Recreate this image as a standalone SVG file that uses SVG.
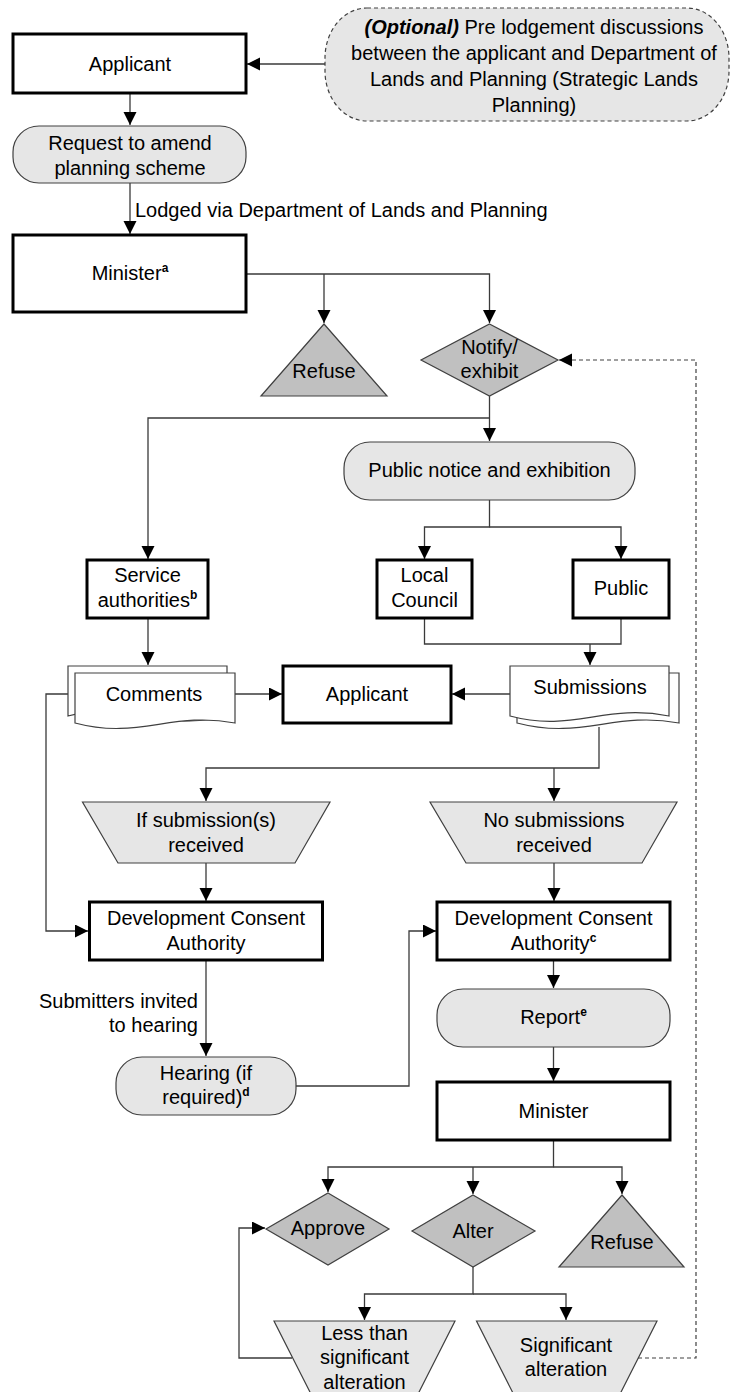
<svg xmlns="http://www.w3.org/2000/svg" width="731" height="1392" viewBox="0 0 731 1392">
<style>
text{font-family:"Liberation Sans",Arial,sans-serif;font-size:20px;fill:#000;text-anchor:middle}
.box{fill:#fff;stroke:#000;stroke-width:3}
.rnd{fill:#e6e6e6;stroke:#404040;stroke-width:1.2}
.trap{fill:#e6e6e6;stroke:#404040;stroke-width:1.2}
.dk{fill:#c0c0c0;stroke:#404040;stroke-width:1.2}
.doc{fill:#fff;stroke:#404040;stroke-width:1.2}
.c{fill:none;stroke:#3a3a3a;stroke-width:1.3}
.d{fill:none;stroke:#404040;stroke-width:1.2;stroke-dasharray:4 3}
.sup{font-size:12px;font-weight:bold}
</style>
<defs>
<marker id="ah" markerUnits="userSpaceOnUse" markerWidth="14" markerHeight="14" refX="13" refY="6.5" orient="auto">
<path d="M0,0 L13,6.5 L0,13 z" fill="#000"/>
</marker>
</defs>
<rect width="731" height="1392" fill="#fff"/>
<g id="connectors">
<path class="c" d="M325,64 H247" marker-end="url(#ah)"/>
<path class="c" d="M130,93 V125" marker-end="url(#ah)"/>
<path class="c" d="M130,183 V234" marker-end="url(#ah)"/>
<path class="c" d="M247,274 H489.5 V323" marker-end="url(#ah)"/>
<path class="c" d="M324,274 V323" marker-end="url(#ah)"/>
<path class="c" d="M489.5,396 V441" marker-end="url(#ah)"/>
<path class="c" d="M489.5,418 H148 V559" marker-end="url(#ah)"/>
<path class="c" d="M489.5,500 V527 H424.5 V559" marker-end="url(#ah)"/>
<path class="c" d="M489.5,527 H621 V559" marker-end="url(#ah)"/>
<path class="c" d="M148,618 V665" marker-end="url(#ah)"/>
<path class="c" d="M424.5,618 V644 H621 V618"/>
<path class="c" d="M590,644 V665" marker-end="url(#ah)"/>
<path class="c" d="M235,694 H282" marker-end="url(#ah)"/>
<path class="c" d="M510,694 H452" marker-end="url(#ah)"/>
<path class="c" d="M599,727 V768 H206 V801" marker-end="url(#ah)"/>
<path class="c" d="M554,768 V801" marker-end="url(#ah)"/>
<path class="c" d="M68,694 H46 V931 H88" marker-end="url(#ah)"/>
<path class="c" d="M206,863 V901" marker-end="url(#ah)"/>
<path class="c" d="M554,863 V901" marker-end="url(#ah)"/>
<path class="c" d="M206,960 V1056" marker-end="url(#ah)"/>
<path class="c" d="M296,1086 H409 V931 H436" marker-end="url(#ah)"/>
<path class="c" d="M553.5,960 V988" marker-end="url(#ah)"/>
<path class="c" d="M553.5,1047 V1081" marker-end="url(#ah)"/>
<path class="c" d="M553.5,1140 V1167 H328 V1192" marker-end="url(#ah)"/>
<path class="c" d="M473,1167 V1194" marker-end="url(#ah)"/>
<path class="c" d="M553.5,1167 H622 V1194" marker-end="url(#ah)"/>
<path class="c" d="M473,1267 V1294 H364.5 V1320" marker-end="url(#ah)"/>
<path class="c" d="M473,1294 H566 V1320" marker-end="url(#ah)"/>
<path class="c" d="M292,1358 H239 V1228 H265" marker-end="url(#ah)"/>
<path class="d" d="M638,1358 H696 V360 H559" marker-end="url(#ah)"/>
<text x="135" y="217" style="text-anchor:start">Lodged via Department of Lands and Planning</text>
<text x="198" y="1008" style="text-anchor:end">Submitters invited</text>
<text x="198" y="1032" style="text-anchor:end">to hearing</text>
</g>
<g id="applicant-top">
<rect class="box" x="13" y="34" width="233" height="59"/>
<text x="130" y="71">Applicant</text>
</g>
<g id="optional">
<rect x="325" y="8" width="404" height="113" rx="42" ry="50" fill="#e6e6e6" stroke="#404040" stroke-width="1.2" stroke-dasharray="4 3"/>
<text x="534" y="34"><tspan font-weight="bold" font-style="italic">(Optional)</tspan> Pre lodgement discussions</text>
<text x="534" y="60">between the applicant and Department of</text>
<text x="534" y="86">Lands and Planning (Strategic Lands</text>
<text x="534" y="112">Planning)</text>
</g>
<g id="request">
<rect class="rnd" x="13" y="126" width="233" height="57" rx="26" ry="26"/>
<text x="130" y="150">Request to amend</text>
<text x="130" y="175">planning scheme</text>
</g>
<g id="minister-top">
<rect class="box" x="13" y="235" width="233" height="77"/>
<text x="130" y="280">Minister<tspan class="sup" dy="-8">a</tspan></text>
</g>
<g id="refuse-top">
<polygon class="dk" points="324,324 387,396 261,396"/>
<text x="324" y="378">Refuse</text>
</g>
<g id="notify">
<polygon class="dk" points="489.5,324 558,360 489.5,396 421,360"/>
<text x="489.5" y="354">Notify/</text>
<text x="489.5" y="378">exhibit</text>
</g>
<g id="public-notice">
<rect class="rnd" x="344" y="442" width="291" height="58" rx="26" ry="26"/>
<text x="489.5" y="477">Public notice and exhibition</text>
</g>
<g id="service">
<rect class="box" x="87" y="560" width="121" height="58"/>
<text x="147.5" y="582">Service</text>
<text x="147.5" y="607">authorities<tspan class="sup" dy="-8">b</tspan></text>
</g>
<g id="local-council">
<rect class="box" x="377" y="560" width="95" height="58"/>
<text x="424.5" y="582">Local</text>
<text x="424.5" y="607">Council</text>
</g>
<g id="public">
<rect class="box" x="573" y="560" width="96" height="58"/>
<text x="621" y="595">Public</text>
</g>
<g id="comments">
<path class="doc" d="M68,666 H227 V716 C163,733 131,699 68,716 Z"/>
<path class="doc" d="M75,673 H235 V723 C171,711 139,740 75,723 Z"/>
<text x="154" y="701">Comments</text>
</g>
<g id="applicant-mid">
<rect class="box" x="283" y="666" width="168" height="57"/>
<text x="367" y="701">Applicant</text>
</g>
<g id="submissions">
<path class="doc" d="M517,673 H679 V723 C614,711 582,740 517,723 Z"/>
<path class="doc" d="M510,666 H669 V716 C605,703 573,733 510,716 Z"/>
<text x="590" y="694">Submissions</text>
</g>
<g id="if-submissions">
<polygon class="trap" points="82.5,802 330,802 295,863 118,863"/>
<text x="206" y="827">If submission(s)</text>
<text x="206" y="852">received</text>
</g>
<g id="no-submissions">
<polygon class="trap" points="430,802 677,802 642,863 466,863"/>
<text x="554" y="827">No submissions</text>
<text x="554" y="852">received</text>
</g>
<g id="dca-left">
<rect class="box" x="89.5" y="902" width="233" height="58"/>
<text x="206" y="925">Development Consent</text>
<text x="206" y="950">Authority</text>
</g>
<g id="dca-right">
<rect class="box" x="437" y="902" width="233" height="58"/>
<text x="553.5" y="925">Development Consent</text>
<text x="553.5" y="950">Authority<tspan class="sup" dy="-8">c</tspan></text>
</g>
<g id="hearing">
<rect class="rnd" x="116" y="1057" width="180" height="58" rx="26" ry="26"/>
<text x="206" y="1080">Hearing (if</text>
<text x="206" y="1104">required)<tspan class="sup" dy="-8">d</tspan></text>
</g>
<g id="report">
<rect class="rnd" x="437" y="989" width="233" height="58" rx="26" ry="26"/>
<text x="553.5" y="1024">Report<tspan class="sup" dy="-8">e</tspan></text>
</g>
<g id="minister-bottom">
<rect class="box" x="437" y="1082" width="233" height="58"/>
<text x="553.5" y="1118">Minister</text>
</g>
<g id="approve">
<polygon class="dk" points="328,1193 389,1229 328,1265 266,1229"/>
<text x="328" y="1235">Approve</text>
</g>
<g id="alter">
<polygon class="dk" points="473,1195 535,1231 473,1267 412,1231"/>
<text x="473" y="1238">Alter</text>
</g>
<g id="refuse-bottom">
<polygon class="dk" points="622,1195 684,1267 559,1267"/>
<text x="622" y="1249">Refuse</text>
</g>
<g id="less-than">
<polygon class="trap" points="274,1321 455,1321 415,1400 314,1400"/>
<text x="364.5" y="1340">Less than</text>
<text x="364.5" y="1364">significant</text>
<text x="364.5" y="1389">alteration</text>
</g>
<g id="significant">
<polygon class="trap" points="476.5,1321 657,1321 617,1400 516.5,1400"/>
<text x="566" y="1352">Significant</text>
<text x="566" y="1376">alteration</text>
</g>
</svg>
